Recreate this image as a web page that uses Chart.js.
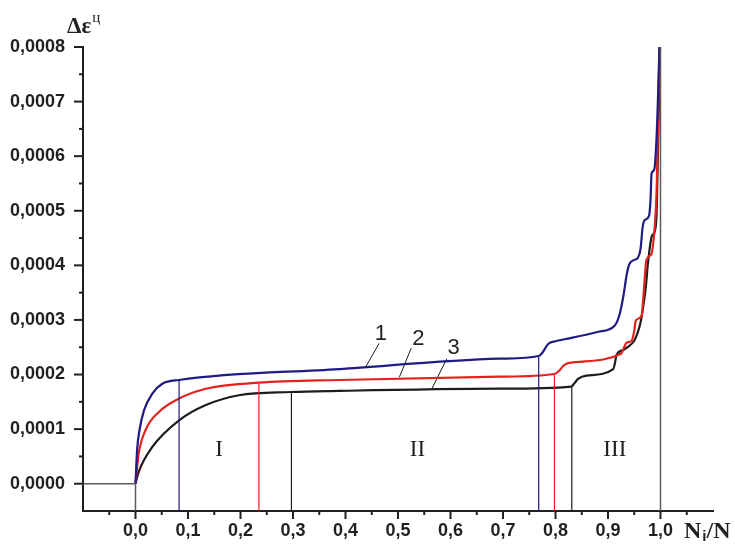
<!DOCTYPE html>
<html>
<head>
<meta charset="utf-8">
<script src="https://cdn.jsdelivr.net/npm/chart.js@4.4.0/dist/chart.umd.min.js"></script>
<style>
    html, body { margin: 0; padding: 0; background: #fff; }
    canvas { display: block; }
</style>
</head>
<body>
<canvas id="chart" width="735" height="546"></canvas>
<script>
// Curve 1 (blue)
const curve1X = [0, 0.003, 0.0076, 0.016, 0.032, 0.051, 0.083, 0.388, 0.693, 0.768, 0.775, 0.786, 0.80, 0.82, 0.88, 0.913, 0.922, 0.929, 0.936, 0.941, 0.95, 0.957, 0.962, 0.966, 0.970, 0.978, 0.981, 0.983, 0.988, 0.992, 0.995, 0.998];
const curve1Y = [0, 0.000061, 0.000098, 0.000134, 0.000165, 0.000183, 0.00019, 0.00021, 0.000229, 0.000234, 0.00024, 0.000256, 0.000261, 0.000265, 0.000278, 0.00029, 0.00031, 0.000342, 0.000385, 0.000403, 0.00041, 0.000414, 0.00043, 0.00047, 0.000483, 0.00049, 0.00052, 0.000568, 0.000575, 0.000624, 0.0007, 0.0008];

// Curve 2 (red)
const curve2X = [0, 0.006, 0.019, 0.044, 0.083, 0.134, 0.235, 0.388, 0.693, 0.798, 0.807, 0.815, 0.824, 0.925, 0.930, 0.935, 0.945, 0.950, 0.953, 0.964, 0.968, 0.973, 0.983, 0.986, 0.989, 0.993, 0.996, 0.998];
const curve2Y = [0, 0.0000545, 0.000098, 0.000131, 0.000156, 0.000174, 0.000185, 0.00019, 0.000196, 0.000201, 0.000207, 0.000216, 0.000221, 0.000238, 0.000248, 0.000258, 0.000262, 0.00028, 0.000299, 0.000308, 0.00035, 0.000409, 0.000421, 0.00044, 0.00047, 0.00055, 0.0007, 0.0008];

// Curve 3 (black)
const curve3X = [0, 0.006, 0.032, 0.083, 0.134, 0.197, 0.296, 0.388, 0.693, 0.830, 0.836, 0.843, 0.859, 0.910, 0.913, 0.916, 0.929, 0.941, 0.950, 0.957, 0.963, 0.967, 0.972, 0.976, 0.983, 0.987, 0.992, 0.995, 0.999];
const curve3Y = [0, 0.0000214, 0.0000673, 0.000116, 0.000144, 0.000162, 0.000168, 0.00017, 0.000174, 0.000178, 0.000184, 0.000192, 0.000198, 0.00021, 0.00022, 0.000235, 0.000245, 0.000253, 0.000262, 0.000278, 0.0003, 0.000324, 0.00036, 0.000403, 0.000452, 0.000458, 0.000483, 0.0006, 0.0008];

// Zone boundaries (vertical lines): x position and top value, per curve
const boundaryX = [0.083, 0.235, 0.297, 0.768, 0.798, 0.831];
const boundaryTop = [0.00019, 0.000185, 0.000168, 0.000234, 0.000201, 0.000178];

// Base lines: level before load, x = 0 and x = 1
const baseX = [-0.1, 0];
const baseY = [0, 0];

const curveLabels = ['1', '2', '3'];
const zoneLabels = ['I', 'II', 'III'];

const colors = {
    blue: '#201a82',
    red: '#e3221e',
    black: '#1d1d1b',
    gray: '#5b5b5b',
    axis: '#231f20'
};
const boundaryColors = [colors.blue, colors.red, colors.black, colors.blue, colors.red, colors.black];

const yMin = -0.00005;

function points(xs, ys) {
    return xs.map((x, i) => ({ x, y: ys[i] }));
}

function lineSet(data, color, width) {
    return {
        data,
        borderColor: color,
        borderWidth: width,
        pointRadius: 0,
        showLine: true,
        fill: false
    };
}

const datasets = [];
boundaryX.forEach((x, i) => {
    datasets.push(lineSet([{ x, y: yMin }, { x, y: boundaryTop[i] }], boundaryColors[i], 1.2));
});
datasets.push(lineSet(points(baseX, baseY), colors.gray, 1.5));
datasets.push(lineSet([{ x: 0, y: yMin }, { x: 0, y: 0 }], colors.gray, 1.5));
datasets.push(lineSet([{ x: 1, y: yMin }, { x: 1, y: 0.0008 }], colors.gray, 1.5));

[[curve1X, curve1Y, colors.blue], [curve2X, curve2Y, colors.red], [curve3X, curve3Y, colors.black]].forEach(([xs, ys, c]) => {
    const ds = lineSet(points(xs, ys), c, 2.2);
    ds.cubicInterpolationMode = 'monotone';
    datasets.push(ds);
});

// Leader lines for curve numbers: [label x, label y, start, end]
const leaders = [
    { text: curveLabels[0], lx: 0.4675, ly: 0.000274, from: [0.464, 0.000257], to: [0.4385, 0.000214] },
    { text: curveLabels[1], lx: 0.539, ly: 0.000265, from: [0.525, 0.000248], to: [0.5025, 0.000195] },
    { text: curveLabels[2], lx: 0.606, ly: 0.000249, from: [0.593, 0.000229], to: [0.565, 0.000175] }
];
leaders.forEach(l => {
    datasets.push(lineSet([{ x: l.from[0], y: l.from[1] }, { x: l.to[0], y: l.to[1] }], colors.black, 1));
});

const zones = [
    { text: zoneLabels[0], x: 0.159, y: 0.000061 },
    { text: zoneLabels[1], x: 0.537, y: 0.000061 },
    { text: zoneLabels[2], x: 0.913, y: 0.000061 }
];

const decorPlugin = {
    id: 'decor',
    afterDraw(chart) {
        const { ctx, chartArea, scales } = chart;
        const sx = scales.x, sy = scales.y;
        ctx.save();

        // ticks
        ctx.strokeStyle = colors.axis;
        ctx.lineWidth = 2;
        for (let i = -1; i <= 21; i++) {
            const px = sx.getPixelForValue(i * 0.05);
            const len = i % 2 === 0 ? 8 : 4;
            ctx.beginPath();
            ctx.moveTo(px, chartArea.bottom);
            ctx.lineTo(px, chartArea.bottom + len);
            ctx.stroke();
        }
        for (let i = 0; i <= 16; i++) {
            const py = sy.getPixelForValue(i * 0.00005);
            const len = i % 2 === 0 ? 9 : 4;
            ctx.beginPath();
            ctx.moveTo(chartArea.left, py);
            ctx.lineTo(chartArea.left - len, py);
            ctx.stroke();
        }

        // curve numbers
        ctx.fillStyle = colors.axis;
        ctx.textAlign = 'center';
        ctx.textBaseline = 'middle';
        ctx.font = '22px "Liberation Sans", Arial, sans-serif';
        leaders.forEach(l => {
            ctx.fillText(l.text, sx.getPixelForValue(l.lx), sy.getPixelForValue(l.ly));
        });

        // zone numerals
        ctx.font = '23px "Liberation Serif", "Times New Roman", serif';
        zones.forEach(z => {
            ctx.fillText(z.text, sx.getPixelForValue(z.x), sy.getPixelForValue(z.y));
        });

        // axis titles
        ctx.textAlign = 'left';
        ctx.textBaseline = 'alphabetic';
        ctx.font = 'bold 23px "Liberation Serif", "Times New Roman", serif';
        ctx.fillText('Δε', chartArea.left - 16, chartArea.top - 14);
        const dw = ctx.measureText('Δε').width;
        ctx.font = '15px "Liberation Serif", "Times New Roman", serif';
        ctx.fillText('ц', chartArea.left - 16 + dw + 1, chartArea.top - 25);

        ctx.font = 'bold 24px "Liberation Serif", "Times New Roman", serif';
        const bx = chartArea.right - 29, by = chartArea.bottom + 27;
        ctx.fillText('N', bx, by);
        const nw = ctx.measureText('N').width;
        ctx.font = 'bold 15px "Liberation Sans", Arial, sans-serif';
        ctx.fillText('i', bx + nw + 1, by + 3);
        const iw = ctx.measureText('i').width;
        ctx.font = 'bold 24px "Liberation Serif", "Times New Roman", serif';
        ctx.fillText('/N', bx + nw + iw + 1, by);

        ctx.restore();
    }
};

const tickFont = { family: '"Liberation Sans", Arial, sans-serif', size: 18, weight: 'bold' };

new Chart(document.getElementById('chart'), {
    type: 'scatter',
    data: { datasets },
    options: {
        responsive: false,
        animation: false,
        devicePixelRatio: 1,
        layout: { padding: { left: 0, top: 47, right: 22, bottom: 0 } },
        plugins: {
            legend: { display: false },
            tooltip: { enabled: false }
        },
        scales: {
            x: {
                type: 'linear',
                min: -0.1,
                max: 1.1,
                grid: { display: false, drawTicks: false },
                border: { display: true, color: colors.axis, width: 2 },
                ticks: {
                    stepSize: 0.1,
                    padding: 9,
                    color: colors.axis,
                    font: tickFont,
                    maxRotation: 0,
                    autoSkip: false,
                    callback: v => (v < -0.05 || v > 1.05) ? '' : v.toFixed(1).replace('.', ',')
                },
                afterFit: scale => { scale.height = 35; }
            },
            y: {
                type: 'linear',
                min: yMin,
                max: 0.0008,
                grid: { display: false, drawTicks: false },
                border: { display: true, color: colors.axis, width: 2 },
                ticks: {
                    stepSize: 0.0001,
                    padding: 18,
                    color: colors.axis,
                    font: tickFont,
                    autoSkip: false,
                    callback: v => v < -0.00001 ? '' : v.toFixed(4).replace('.', ',')
                },
                afterFit: scale => { scale.width = 83; }
            }
        }
    },
    plugins: [decorPlugin]
});
</script>
</body>
</html>
